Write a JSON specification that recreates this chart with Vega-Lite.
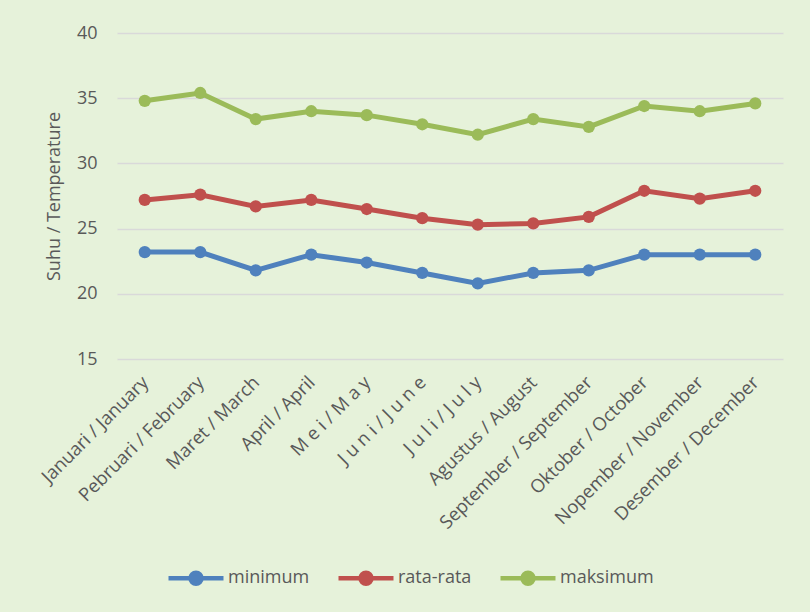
{
  "$schema": "https://vega.github.io/schema/vega-lite/v6.json",
  "width": 666,
  "height": 326,
  "autosize": {"type": "none"},
  "padding": {"left": 117, "top": 33, "right": 27, "bottom": 253},
  "background": "#E6F2DA",
  "config": {
    "view": {"stroke": null},
    "font": "Open Sans",
    "axis": {"labelColor": "#595959", "titleColor": "#595959", "labelFont": "Open Sans", "titleFont": "Open Sans"}
  },
  "data": {
    "values": [
      {"bulan": "Januari / January", "seri": "minimum", "suhu": 23.2},
      {"bulan": "Pebruari / February", "seri": "minimum", "suhu": 23.2},
      {"bulan": "Maret / March", "seri": "minimum", "suhu": 21.8},
      {"bulan": "April / April", "seri": "minimum", "suhu": 23.0},
      {"bulan": "M e i / M a y", "seri": "minimum", "suhu": 22.4},
      {"bulan": "J u n i / J u n e", "seri": "minimum", "suhu": 21.6},
      {"bulan": "J u l i / J u l y", "seri": "minimum", "suhu": 20.8},
      {"bulan": "Agustus / August", "seri": "minimum", "suhu": 21.6},
      {"bulan": "September / September", "seri": "minimum", "suhu": 21.8},
      {"bulan": "Oktober / October", "seri": "minimum", "suhu": 23.0},
      {"bulan": "Nopember / November", "seri": "minimum", "suhu": 23.0},
      {"bulan": "Desember / December", "seri": "minimum", "suhu": 23.0},
      {"bulan": "Januari / January", "seri": "rata-rata", "suhu": 27.2},
      {"bulan": "Pebruari / February", "seri": "rata-rata", "suhu": 27.6},
      {"bulan": "Maret / March", "seri": "rata-rata", "suhu": 26.7},
      {"bulan": "April / April", "seri": "rata-rata", "suhu": 27.2},
      {"bulan": "M e i / M a y", "seri": "rata-rata", "suhu": 26.5},
      {"bulan": "J u n i / J u n e", "seri": "rata-rata", "suhu": 25.8},
      {"bulan": "J u l i / J u l y", "seri": "rata-rata", "suhu": 25.3},
      {"bulan": "Agustus / August", "seri": "rata-rata", "suhu": 25.4},
      {"bulan": "September / September", "seri": "rata-rata", "suhu": 25.9},
      {"bulan": "Oktober / October", "seri": "rata-rata", "suhu": 27.9},
      {"bulan": "Nopember / November", "seri": "rata-rata", "suhu": 27.3},
      {"bulan": "Desember / December", "seri": "rata-rata", "suhu": 27.9},
      {"bulan": "Januari / January", "seri": "maksimum", "suhu": 34.8},
      {"bulan": "Pebruari / February", "seri": "maksimum", "suhu": 35.4},
      {"bulan": "Maret / March", "seri": "maksimum", "suhu": 33.4},
      {"bulan": "April / April", "seri": "maksimum", "suhu": 34.0},
      {"bulan": "M e i / M a y", "seri": "maksimum", "suhu": 33.7},
      {"bulan": "J u n i / J u n e", "seri": "maksimum", "suhu": 33.0},
      {"bulan": "J u l i / J u l y", "seri": "maksimum", "suhu": 32.2},
      {"bulan": "Agustus / August", "seri": "maksimum", "suhu": 33.4},
      {"bulan": "September / September", "seri": "maksimum", "suhu": 32.8},
      {"bulan": "Oktober / October", "seri": "maksimum", "suhu": 34.4},
      {"bulan": "Nopember / November", "seri": "maksimum", "suhu": 34.0},
      {"bulan": "Desember / December", "seri": "maksimum", "suhu": 34.6}
    ]
  },
  "encoding": {
    "x": {
      "field": "bulan",
      "type": "nominal",
      "sort": null,
      "scale": {"type": "point", "padding": 0.5},
      "axis": {
        "title": null,
        "labelAngle": -45,
        "labelAlign": "right",
        "labelBaseline": "middle",
        "labelFontSize": 18.5,
        "labelPadding": 20,
        "labelLimit": 400,
        "labelOverlap": false,
        "ticks": false,
        "domain": false,
        "grid": false
      }
    },
    "y": {
      "field": "suhu",
      "type": "quantitative",
      "scale": {"domain": [15, 40], "nice": false, "zero": false},
      "axis": {
        "title": "Suhu / Temperature",
        "titleFontSize": 18,
        "titleFontWeight": "normal",
        "titlePadding": 13,
        "labelFontSize": 18,
        "labelPadding": 20,
        "values": [15, 20, 25, 30, 35, 40],
        "ticks": false,
        "domain": false,
        "grid": true,
        "gridColor": "#D9D9D9",
        "gridWidth": 1.5
      }
    },
    "color": {
      "field": "seri",
      "type": "nominal",
      "sort": ["minimum", "rata-rata", "maksimum"],
      "scale": {"domain": ["minimum", "rata-rata", "maksimum"], "range": ["#4F81BD", "#C0504D", "#9BBB59"]},
      "legend": {
        "title": null,
        "orient": "none",
        "direction": "horizontal",
        "legendX": 49,
        "legendY": 515,
        "labelFontSize": 18,
        "labelColor": "#595959",
        "labelFont": "Open Sans",
        "symbolType": "M-1,0H1M-0.2,0A0.2,0.2,0,1,1,0.2,0A0.2,0.2,0,1,1,-0.2,0",
        "symbolSize": 3025,
        "symbolStrokeWidth": 4.5,
        "symbolOffset": 0,
        "labelOffset": 2,
        "columnPadding": 19
      }
    }
  },
  "layer": [
    {"mark": {"type": "line", "strokeWidth": 5}},
    {"mark": {"type": "point", "filled": true, "opacity": 1, "size": 150}}
  ]
}
